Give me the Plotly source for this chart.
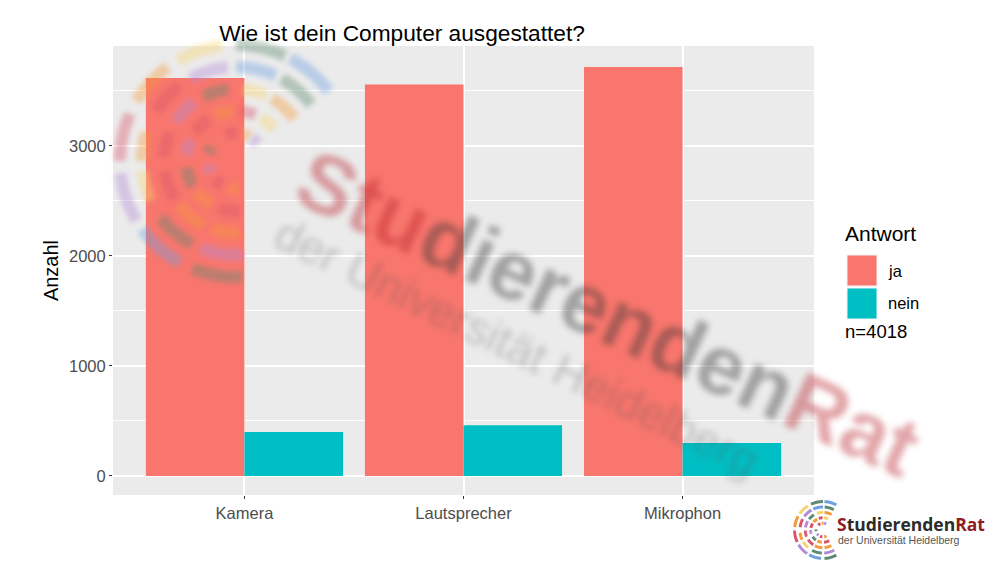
import math
import plotly.graph_objects as go

categories = ["Kamera", "Lautsprecher", "Mikrophon"]
ja = [3618, 3558, 3718]
nein = [400, 460, 300]

# logo colours
BLUE = "#6f9fe0"
GREEN = "#5f8a72"
ORANGE = "#f59a3c"
YELLOW = "#f7d56e"
PURPLE = "#b28ad6"
PINK = "#d9556b"

# logo segments: ring, start angle, end angle, colour
logo_segments = [
    (4, 90, 65, GREEN), (4, 62, 37, BLUE), (4, 120, 97, YELLOW), (4, 149, 126, ORANGE),
    (4, 180, 156, PINK), (4, 186, 211, PURPLE), (4, 216, 241, BLUE), (4, 248, 273, GREEN),
    (3, 119, 95, PURPLE), (3, 90, 65, BLUE), (3, 61, 37, GREEN), (3, 148, 127, PINK),
    (3, 180, 162, ORANGE), (3, 186, 205, YELLOW), (3, 217, 242, GREEN), (3, 248, 274, PURPLE),
    (2, 117, 96, GREEN), (2, 85, 65, YELLOW), (2, 60, 36, ORANGE), (2, 147, 125, PURPLE),
    (2, 177, 157, PINK), (2, 188, 212, PINK), (2, 218, 243, ORANGE), (2, 250, 273, ORANGE),
    (1, 115, 93, ORANGE), (1, 85, 67, PINK), (1, 60, 40, YELLOW), (1, 145, 123, PINK),
    (1, 173, 155, PURPLE), (1, 188, 210, GREEN), (1, 218, 240, ORANGE), (1, 250, 275, PINK),
    (0, 110, 88, PINK), (0, 75, 60, ORANGE), (0, 55, 38, PURPLE), (0, 165, 150, GREEN),
    (0, 188, 205, PURPLE), (0, 220, 240, PINK), (0, 255, 275, ORANGE),
]
ring_radii = [28, 50, 72, 94, 116]

# panel box in page pixels
L, R, T, B = 113, 814, 46, 495
W, H = 1000, 569


def px(x):
    return (x - L) / (R - L)


def py(y):
    return (B - y) / (B - T)


def arc_path(cx, cy, r, a0, a1):
    n = 10
    pts = []
    for i in range(n + 1):
        a = math.radians(a0 + (a1 - a0) * i / n)
        pts.append((px(cx + r * math.cos(a)), py(cy - r * math.sin(a))))
    return "M" + " L".join(f"{x:.5f},{y:.5f}" for x, y in pts)


def logo_shapes(cx, cy, scale, rot, width, opacity):
    out = []
    for ring, a0, a1, col in logo_segments:
        out.append(dict(
            type="path", xref="paper", yref="paper", layer="above",
            path=arc_path(cx, cy, ring_radii[ring] * scale, a0 + rot, a1 + rot),
            line=dict(color=col, width=width), opacity=opacity,
        ))
    return out


shapes = logo_shapes(236, 161, 1, 0, 12, 0.4)
n_blur = len(shapes)
shapes += logo_shapes(823, 530, 0.245, 25, 3, 1)

# legend keys
for y0, y1, col in [(255, 286, "#F8766D"), (288, 319, "#00BFC4")]:
    shapes.append(dict(type="rect", xref="paper", yref="paper", layer="above",
                       x0=px(847), x1=px(877), y0=py(y1), y1=py(y0),
                       fillcolor=col, line=dict(color="#f2f2f2", width=1)))

fig = go.Figure()
fig.add_bar(x=categories, y=ja, name="ja", marker=dict(color="#F8766D", line_width=0), showlegend=False)
fig.add_bar(x=categories, y=nein, name="nein", marker=dict(color="#00BFC4", line_width=0), showlegend=False)


def note(x, y, text, size, color="#000000", anchor="left", family="Liberation Sans", **kw):
    return dict(xref="paper", yref="paper", x=px(x), y=py(y), text=text, showarrow=False,
                xanchor=anchor, yanchor="middle", font=dict(size=size, color=color, family=family), **kw)


RED = "#b8202a"
annotations = [
    note(608, 313,
         f'<b><span style="color:{RED}">Stu</span>dierenden<span style="color:{RED}">Rat</span></b>',
         84, "#333333", "center", textangle=24.5, opacity=0.4),
    note(517, 347, "der Universität Heidelberg", 46, "#555555", "center", textangle=26, opacity=0.3),
]
n_blur_notes = len(annotations)
annotations += [
    note(843, 233, "Antwort", 21),
    note(886, 271, "ja", 16.5),
    note(886, 303, "nein", 16.5),
    note(843, 331, "n=4018", 18.5),
    note(835, 524, '<b><span style="color:#8f1d22">S</span>tudierenden<span style="color:#8f1d22">Rat</span></b>',
         17.5, "#2b2b2b", family="Open Sans"),
    note(836, 540, "der Universität Heidelberg", 10.5, "#555555"),
]

fig.update_layout(
    width=W, height=H,
    autosize=False,
    barmode="group", bargap=0.1, bargroupgap=0,
    plot_bgcolor="#EBEBEB", paper_bgcolor="#FFFFFF",
    font=dict(family="Liberation Sans", color="#000000"),
    margin=dict(l=L, r=W - R, t=T, b=H - B, pad=0),
    title=dict(text="Wie ist dein Computer ausgestattet?", x=402 / W, xanchor="center",
               y=1 - 33 / H, yanchor="middle", font=dict(size=22.7, color="#000000")),
    shapes=shapes, annotations=annotations, showlegend=False,
)
fig.update_xaxes(
    range=[-0.6, 2.6], showgrid=True, gridcolor="#FFFFFF", gridwidth=1.7, zeroline=False,
    ticks="outside", ticklen=3, tickcolor="#333333", tickwidth=1,
    tickfont=dict(size=16.5, color="#4D4D4D"),
)
fig.update_yaxes(
    range=[-173, 3909], tick0=0, dtick=1000, showgrid=True, gridcolor="#FFFFFF", gridwidth=1.7,
    zeroline=False, ticks="outside", ticklen=3, tickcolor="#333333", tickwidth=1,
    tickfont=dict(size=16.5, color="#4D4D4D"), tickformat="d",
    minor=dict(dtick=500, tick0=0, showgrid=True, gridcolor="#FFFFFF", gridwidth=0.9, ticks=""),
    title=dict(text="Anzahl", font=dict(size=20, color="#000000"), standoff=4),
)

# the watermark in the reference is soft, so blur those shapes and notes after drawing
post = """
document.body.style.margin = '0';
var gd = document.getElementById('{plot_id}');
gd.querySelectorAll('.layer-above .shapelayer path').forEach(function (el) {
  if (+el.getAttribute('data-index') < %d) { el.style.filter = 'blur(2.4px)'; }
});
gd.querySelectorAll('.annotation').forEach(function (el) {
  var i = +el.getAttribute('data-index');
  if (i < %d) { el.style.filter = 'blur(3px)'; }
});
""" % (n_blur, n_blur_notes)

fig.write_html("out.html", post_script=post, config={"displayModeBar": False})
